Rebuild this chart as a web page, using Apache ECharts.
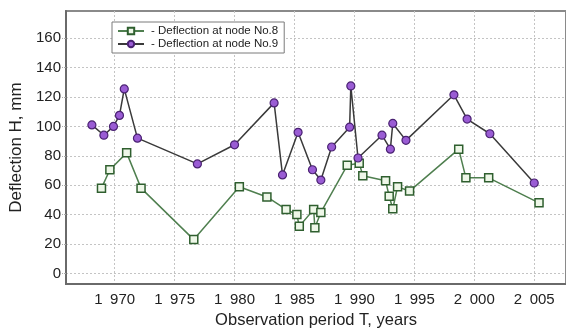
<!DOCTYPE html>
<html>
<head>
<meta charset="utf-8">
<script src="https://cdn.jsdelivr.net/npm/echarts@6/dist/echarts.min.js"></script>
<style>
  html, body { margin: 0; padding: 0; background: #fff; }
  #chart { width: 566px; height: 334px; }
</style>
</head>
<body>
<div id="chart"></div>
<script>
// Observation years and measured deflections (mm) at the two nodes
const years8 = [1968.9, 1969.6, 1971.0, 1972.2, 1976.6, 1980.4, 1982.7, 1984.3, 1985.2, 1985.4,
                1986.6, 1986.7, 1987.2, 1989.4, 1990.4, 1990.7, 1992.6, 1992.9, 1993.2, 1993.6,
                1994.6, 1998.7, 1999.3, 2001.2, 2005.4];
const deflection8 = [58, 70.5, 82, 58, 23, 59, 52, 43.5, 40, 32,
                     43.5, 31, 41.5, 73.5, 75, 66.5, 63, 52.5, 44, 59,
                     56, 84.5, 65, 65, 48];

const years9 = [1968.1, 1969.1, 1969.9, 1970.4, 1970.8, 1971.9, 1976.9, 1980.0, 1983.3, 1984.0,
                1985.3, 1986.5, 1987.2, 1988.1, 1989.6, 1989.7, 1990.3, 1992.3, 1993.0, 1993.2,
                1994.3, 1998.3, 1999.4, 2001.3, 2005.0];
const deflection9 = [101, 94, 100, 107.5, 125.5, 92, 74.5, 87.5, 116, 67,
                     96, 70.5, 63.5, 86, 99.5, 127.5, 78.5, 94, 84.5, 102,
                     90.5, 121.5, 105, 95, 61.5];

const xTicks = [1970, 1975, 1980, 1985, 1990, 1995, 2000, 2005];
const yTicks = [0, 20, 40, 60, 80, 100, 120, 140, 160];

const seriesNames = ['- Deflection at node No.8', '- Deflection at node No.9'];

const pairs = (xs, ys) => xs.map((x, i) => [x, ys[i]]);
const fmtYear = v => {
  const s = String(Math.round(v));
  return s.slice(0, 1) + '\u2002' + s.slice(1);
};

const font = "'Liberation Sans', Arial, sans-serif";
const gridLine = { show: true, lineStyle: { color: '#c4c4c4', type: [2, 2], width: 1 } };

const chart = echarts.init(document.getElementById('chart'), null, { renderer: 'canvas' });
chart.setOption({
  backgroundColor: '#fff',
  animation: false,
  textStyle: { fontFamily: font },
  grid: {
    left: 66, right: -3, top: 11, bottom: 42,
    show: true, borderColor: '#8a8a8a', borderWidth: 2, backgroundColor: 'transparent'
  },
  legend: {
    orient: 'vertical',
    left: 112, top: 22,
    padding: [3, 6, 3, 5],
    itemWidth: 26, itemHeight: 8, itemGap: 1,
    borderColor: '#7a7a7a', borderWidth: 1,
    backgroundColor: '#fff',
    textStyle: { fontSize: 11.5, color: '#222', fontFamily: font, lineHeight: 12, padding: [0, 0, 0, 2] },
    data: seriesNames
  },
  xAxis: {
    type: 'value',
    min: 1965.94, max: 2007.65,
    interval: 5,
    name: 'Observation period T, years',
    nameLocation: 'middle', nameGap: 25,
    nameTextStyle: { fontSize: 16.5, color: '#222', fontFamily: font },
    axisLine: { show: true, onZero: false, lineStyle: { color: '#6a6a6a', width: 2 } },
    axisTick: { show: false, customValues: xTicks },
    axisLabel: { customValues: xTicks, formatter: fmtYear, fontSize: 15, color: '#222', margin: 8, fontFamily: font },
    splitLine: gridLine
  },
  yAxis: {
    type: 'value',
    min: -7.27, max: 178.5,
    interval: 20,
    name: 'Deflection H, mm',
    nameLocation: 'middle', nameGap: 39,
    nameTextStyle: { fontSize: 17, color: '#222', fontFamily: font },
    axisLine: { show: true, onZero: false, lineStyle: { color: '#6a6a6a', width: 2 } },
    axisTick: { show: true, customValues: yTicks, length: 4, lineStyle: { color: '#aaa', type: [2, 1] } },
    axisLabel: { customValues: yTicks, fontSize: 15, color: '#222', margin: 5, fontFamily: font },
    splitLine: gridLine
  },
  series: [
    {
      name: seriesNames[0],
      type: 'line',
      data: pairs(years8, deflection8),
      symbol: 'rect', symbolSize: 8,
      lineStyle: { color: '#4f7f4f', width: 1.5 },
      itemStyle: { color: '#eef7e8', borderColor: '#2f5f2f', borderWidth: 1.5 },
      emphasis: { disabled: true },
      z: 3
    },
    {
      name: seriesNames[1],
      type: 'line',
      data: pairs(years9, deflection9),
      symbol: 'circle', symbolSize: 8,
      lineStyle: { color: '#3a3a3a', width: 1.5 },
      itemStyle: { color: '#9a5cd4', borderColor: '#4a2272', borderWidth: 1.2 },
      emphasis: { disabled: true },
      z: 4
    }
  ]
});
</script>
</body>
</html>
